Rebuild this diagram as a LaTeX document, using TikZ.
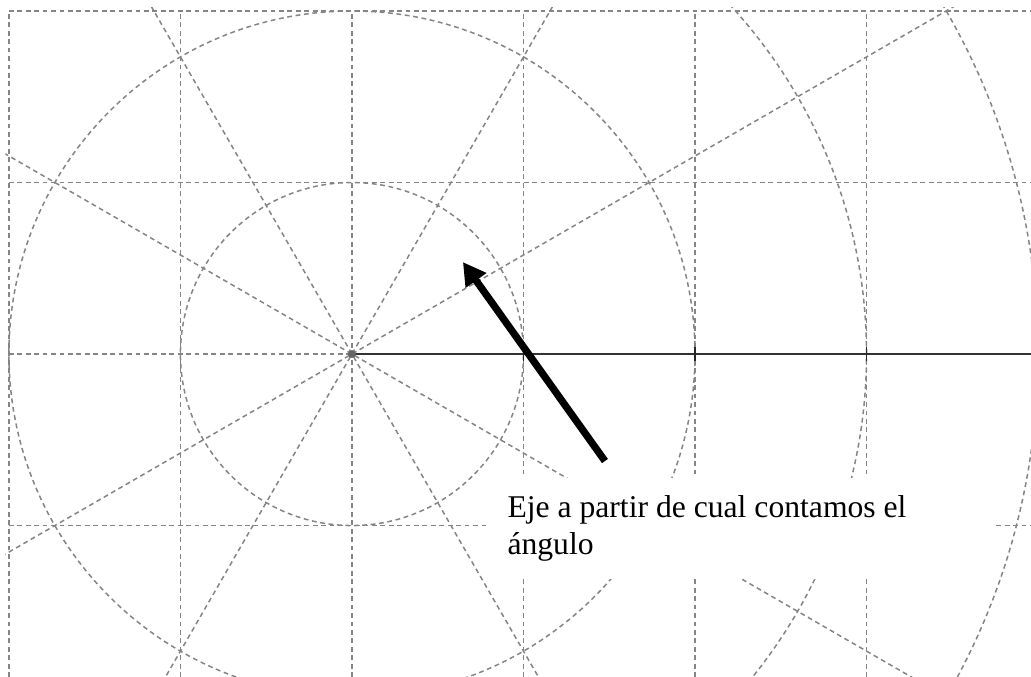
\documentclass[tikz,border=0pt]{standalone}
\usepackage{fontspec}
\setmainfont{Liberation Serif}
\usetikzlibrary{arrows.meta}
\tikzset{
  rejilla/.style={draw=black!48, line width=0.5pt, dash pattern=on 1.6pt off 1.2pt},
  eje/.style={draw=black!80, line width=0.7pt},
  marca/.style={draw=black!85, line width=0.6pt},
  flecha/.style={draw=black, line width=2.4pt, -{Triangle[length=7.5pt,width=8pt]}},
  punto/.style={fill=black!60},
  nota/.style={fill=white, draw=none, anchor=north west, text width=5.43cm,
    inner xsep=0.233cm, inner ysep=6pt, align=flush left,
    font=\fontsize{10.5}{12.2}\selectfont},
}

\begin{document}
\begin{tikzpicture}[x=2cm,y=2cm]
\useasboundingbox (-2.052,-1.883) rectangle (3.959,2.064);
\begin{scope}
\clip (-2.02,-1.883) rectangle (3.959,2.02);
\draw[rejilla, step=1] (-2,-1.883) grid (3.959,2);
\draw[rejilla] (0,0) circle (1);
\draw[rejilla] (0,0) circle (2);
\draw[rejilla] (0,0) circle (3);
\draw[rejilla] (0,0) circle (4);
\draw[rejilla] (30:5) -- (210:5);
\draw[rejilla] (60:5) -- (240:5);
\draw[rejilla] (120:5) -- (300:5);
\draw[rejilla] (150:5) -- (330:5);
\end{scope}
\coordinate (origen) at (0,0);
\coordinate (ejefin) at (3.959,0);
\draw[eje] (origen) -- (ejefin);
\draw[marca] (1,-0.04) -- (1,0.04);
\draw[marca] (2,-0.04) -- (2,0.04);
\draw[marca] (3,-0.04) -- (3,0.04);
\fill[punto] (origen) circle (1.3pt);
\node[nota] (nota) at (0.787,-0.717) {Eje a partir de cual contamos el ángulo};
\coordinate (flechaini) at (1.475,-0.624);
\coordinate (flechafin) at (0.647,0.536);
\draw[flecha] (flechaini) -- (flechafin);
\end{tikzpicture}
\end{document}
